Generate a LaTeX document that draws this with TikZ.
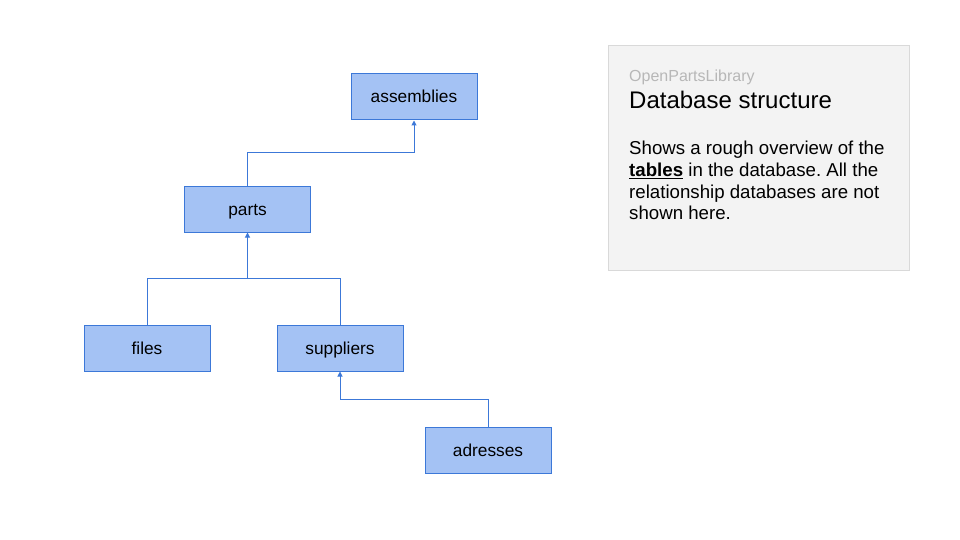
\documentclass[tikz,border=0pt]{standalone}
\usepackage{fontspec}
\setmainfont{Liberation Sans}
\usetikzlibrary{arrows.meta}
\definecolor{boxfill}{HTML}{A4C2F4}
\definecolor{boxline}{HTML}{3C78D8}
\definecolor{notefill}{HTML}{F3F3F3}
\definecolor{noteline}{HTML}{D9D9D9}
\definecolor{subtle}{HTML}{B7B7B7}
\frenchspacing
\begin{document}
\begin{tikzpicture}[x=1pt,y=-1pt,
  table/.style={draw=boxline,fill=boxfill,line width=1pt,minimum width=126pt,minimum height=46pt,inner sep=0pt,text height=14pt,text depth=2pt,font=\fontsize{17.3}{20}\selectfont},
  link/.style={draw=boxline,line width=1pt},
  arr/.style={link,-{Triangle[width=5pt,length=5pt]}},
  txt/.style={anchor=base west,inner sep=0pt}]
\useasboundingbox (0,0) rectangle (960,540);
\fill[white] (0,0) rectangle (960,540);
% note box
\node[draw=noteline,fill=notefill,line width=1pt,minimum width=301pt,minimum height=224pt,inner sep=0pt] (note) at (758.5,158) {};
\node[txt,text=subtle,font=\fontsize{16}{19}\selectfont] (lib) at (629,82) {OpenPartsLibrary};
\node[txt,font=\fontsize{24}{28}\selectfont] (title) at (629,109) {Database structure};
\node[txt,font=\fontsize{18.67}{21.5}\selectfont] (l1) at (629,155) {Shows a rough overview of the};
\node[txt,font=\fontsize{18.67}{21.5}\selectfont] (l2) at (629,176.5) {\underline{\textbf{tables}} in the database. All the};
\node[txt,font=\fontsize{18.67}{21.5}\selectfont] (l3) at (629,198) {relationship databases are not};
\node[txt,font=\fontsize{18.67}{21.5}\selectfont] (l4) at (629,219.5) {shown here.};
% tables
\node[table] (assemblies) at (414,97) {assemblies};
\node[table] (parts) at (247.5,209) {parts};
\node[table] (files) at (147,348) {files};
\node[table] (suppliers) at (340,348) {suppliers};
\node[table] (adresses) at (488,450) {adresses};
% connectors
\coordinate (j1) at (247.5,153);
\coordinate (j2) at (247.5,278);
\coordinate (j3) at (340,399);
\draw[arr] (parts.north) -- (j1) -| (assemblies.south);
\draw[link] (files.north) |- (j2);
\draw[link] (suppliers.north) |- (j2);
\draw[arr] (j2) -- (parts.south);
\draw[arr] (adresses.north) |- (j3) -- (suppliers.south);
\end{tikzpicture}
\end{document}
